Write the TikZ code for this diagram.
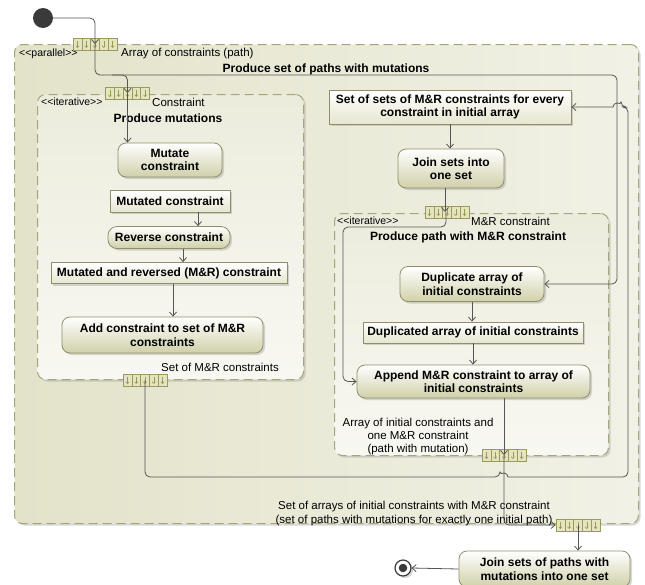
\documentclass[tikz,border=0pt]{standalone}
\usepackage{fontspec}
\setmainfont{Liberation Sans}
\usetikzlibrary{arrows.meta,shadows,calc}

\definecolor{conncol}{HTML}{555555}
\definecolor{boxborder}{HTML}{8F8F6A}
\definecolor{actbot}{HTML}{D0D0AA}
\definecolor{objbot}{HTML}{E6E6D0}
\definecolor{regborder}{HTML}{A5A57A}
\definecolor{parA}{HTML}{E3E3CA}
\definecolor{parB}{HTML}{F1F1E6}
\definecolor{itA}{HTML}{ECECDD}
\definecolor{itB}{HTML}{F8F8F2}
\definecolor{expfill}{HTML}{E4E4BE}
\definecolor{expborder}{HTML}{9A9A5C}
\definecolor{initcol}{HTML}{3A3A3A}

\begin{document}
\begin{tikzpicture}[x=1pt,y=-1pt,
  regfont/.style={font=\fontsize{11.5}{13.5}\selectfont},
  boldfont/.style={font=\bfseries\fontsize{12}{13.5}\selectfont},
  stereo/.style={font=\fontsize{10.5}{12}\selectfont, inner sep=0pt},
  lbl/.style={regfont, inner sep=0pt},
  conn/.style={draw=conncol, line width=0.8pt, rounded corners=5pt},
  arr/.style={conn, -{Straight Barb[length=4pt,width=7pt]}},
  shad/.style={drop shadow={shadow xshift=2pt,shadow yshift=-2pt,opacity=0.3}},
  act/.style={draw=boxborder, line width=0.8pt, rounded corners=8pt, top color=white, bottom color=actbot, align=center, boldfont, inner sep=0pt, shad},
  obj/.style={draw=boxborder, line width=0.8pt, top color=white, bottom color=objbot, align=center, boldfont, inner sep=0pt, shad},
  region/.style={draw=regborder, line width=1pt, dash pattern=on 9pt off 5pt, rounded corners=8pt, inner sep=0pt, anchor=north west, shad},
  expn/.style={draw=expborder, fill=expfill, line width=0.7pt, minimum width=44pt, minimum height=12pt, inner sep=0pt,
    path picture={
      \foreach \i in {1,2,3,4}{
        \draw[expborder, line width=0.6pt] ($(path picture bounding box.north west)!\i/5!(path picture bounding box.north east)$) -- ($(path picture bounding box.south west)!\i/5!(path picture bounding box.south east)$);
      }
      \foreach \i in {0,...,4}{
        \draw[expborder, line width=0.6pt, -{Straight Barb[length=1.8pt,width=3.2pt]}] ($(path picture bounding box.north west)!{(\i+0.5)/5}!(path picture bounding box.north east)+(0,2.5)$) -- ($(path picture bounding box.south west)!{(\i+0.5)/5}!(path picture bounding box.south east)+(0,-2)$);
      }
    }},
]
\useasboundingbox[fill=white] (0,0) rectangle (645,584);

% regions
\node[region, left color=parA, right color=parB, minimum width=624, minimum height=479] (par) at (14,44) {};
\node[region, top color=itA, bottom color=itB, minimum width=266, minimum height=285] (lit) at (37,94) {};
\node[region, top color=itA, bottom color=itB, minimum width=274, minimum height=242] (rit) at (334,213) {};

% region labels
\node[stereo, anchor=west] (parst) at (19,54) {<\kern0pt<parallel>\kern0pt>};
\node[lbl, anchor=west] (parin) at (121,54) {Array of constraints (path)};
\node[boldfont, inner sep=0pt] (partitle) at (326,69) {Produce set of paths with mutations};
\node[stereo, anchor=west] (litst) at (41,102) {<\kern0pt<iterative>\kern0pt>};
\node[lbl, anchor=west] (litin) at (152,102) {Constraint};
\node[boldfont, inner sep=0pt] (littitle) at (168,118) {Produce mutations};
\node[lbl, anchor=east] (litout) at (279,367) {Set of M\&R constraints};
\node[stereo, anchor=west] (ritst) at (337,221) {<\kern0pt<iterative>\kern0pt>};
\node[lbl, anchor=west] (ritin) at (471,221) {M\&R constraint};
\node[boldfont, inner sep=0pt] (rittitle) at (468,237) {Produce path with M\&R constraint};
\node[lbl, align=center, font=\fontsize{11.5}{12.6}\selectfont] (ritout) at (418,436.5) {Array of initial constraints and\\one M\&R constraint\\(path with mutation)};
\node[lbl, align=center, font=\fontsize{11.5}{14}\selectfont] (parout) at (414,514) {Set of arrays of initial constraints with M\&R constraint\\(set of paths with mutations for exactly one initial path)};

% initial and final nodes
\node[circle, fill=initcol, minimum size=20pt, inner sep=0pt] (init) at (43,18) {};
\node[circle, draw=initcol, line width=1.2pt, fill=white, minimum size=16pt, inner sep=0pt, shad] (fin) at (403,568) {};
\node[circle, fill=initcol, minimum size=8.5pt, inner sep=0pt] (finin) at (fin) {};

% expansion nodes
\node[expn] (pin) at (95,44) {};
\node[expn] (lin) at (127.5,93) {};
\node[expn] (lout) at (145,380) {};
\node[expn] (rin) at (447,212) {};
\node[expn] (rout) at (504,455) {};
\node[expn] (pout) at (578,525) {};

% left actions/objects
\node[act, minimum width=104, minimum height=34] (mut) at (170,160) {Mutate\\constraint};
\node[obj, minimum width=120, minimum height=22] (mtd) at (170,201) {Mutated constraint};
\node[act, minimum width=122, minimum height=22, rounded corners=9pt] (rev) at (169,237.5) {Reverse constraint};
\node[obj, minimum width=236, minimum height=21] (mr) at (169,273) {Mutated and reversed (M\&R) constraint};
\node[act, minimum width=201, minimum height=36] (add) at (162.5,335) {Add constraint to set of M\&R\\constraints};

% right actions/objects
\node[obj, minimum width=242, minimum height=34] (set) at (450,107) {Set of sets of M\&R constraints for every\\constraint in initial array};
\node[act, minimum width=106, minimum height=39] (join1) at (451,168.5) {Join sets into\\one set};
\node[act, minimum width=144, minimum height=35] (dup) at (472,284) {Duplicate array of\\initial constraints};
\node[obj, minimum width=220, minimum height=21] (dupd) at (473,332.5) {Duplicated array of initial constraints};
\node[act, minimum width=233, minimum height=33] (app) at (473.5,381.5) {Append M\&R constraint to array of\\initial constraints};
\node[act, minimum width=171, minimum height=36] (join2) at (544.5,569) {Join sets of paths with\\mutations into one set};

% connectors
\draw[arr] (init.east) -| (pin.center);
\draw[arr] (pin.center) -- (95,75) -- (617,75) -- (617,284) -- (dup.east);
\draw[arr] (112,75) -- (127.5,75) -- (lin.center);
\draw[arr] (lin.center) -- (lin.center |- mut.north);
\draw[arr] ([xshift=28]mtd.south) -- ([xshift=28]mtd.south |- rev.north);
\draw[arr] ([xshift=14]rev.south) -- ([xshift=14]rev.south |- mr.north);
\draw[arr] ([xshift=4]mr.south) -- ([xshift=4]mr.south |- add.north);
\draw[arr] (lout.center) -- (145,477) -- (500,477) [sharp corners] arc[start angle=180, end angle=360, radius=4] [rounded corners=5pt] -- (628,477) -- (628,107) -- (621,107) [sharp corners] arc[start angle=0, end angle=-180, radius=4] -- (set.east);
\draw[arr] (set.south) -- (set.south |- join1.north);
\draw[arr] ([xshift=-6]join1.south) -- ([xshift=-6]join1.south |- rin.center);
\draw[arr] (446,212) -- (446,227) -- (343,227) -- (343,381.5) -- (app.west);
\draw[arr] (dup.south) -- (dup.south |- dupd.north);
\draw[arr] (dupd.south) -- (dupd.south |- app.north);
\draw[arr] (app.south -| rout.center) -- (rout.center);
\draw[arr] (rout.center) -- (504,525) -- (pout.west);
\draw[arr] (pout.center) -- (pout.center |- join2.north);
\draw[arr] (join2.west) -- (fin.east);
\end{tikzpicture}
\end{document}
